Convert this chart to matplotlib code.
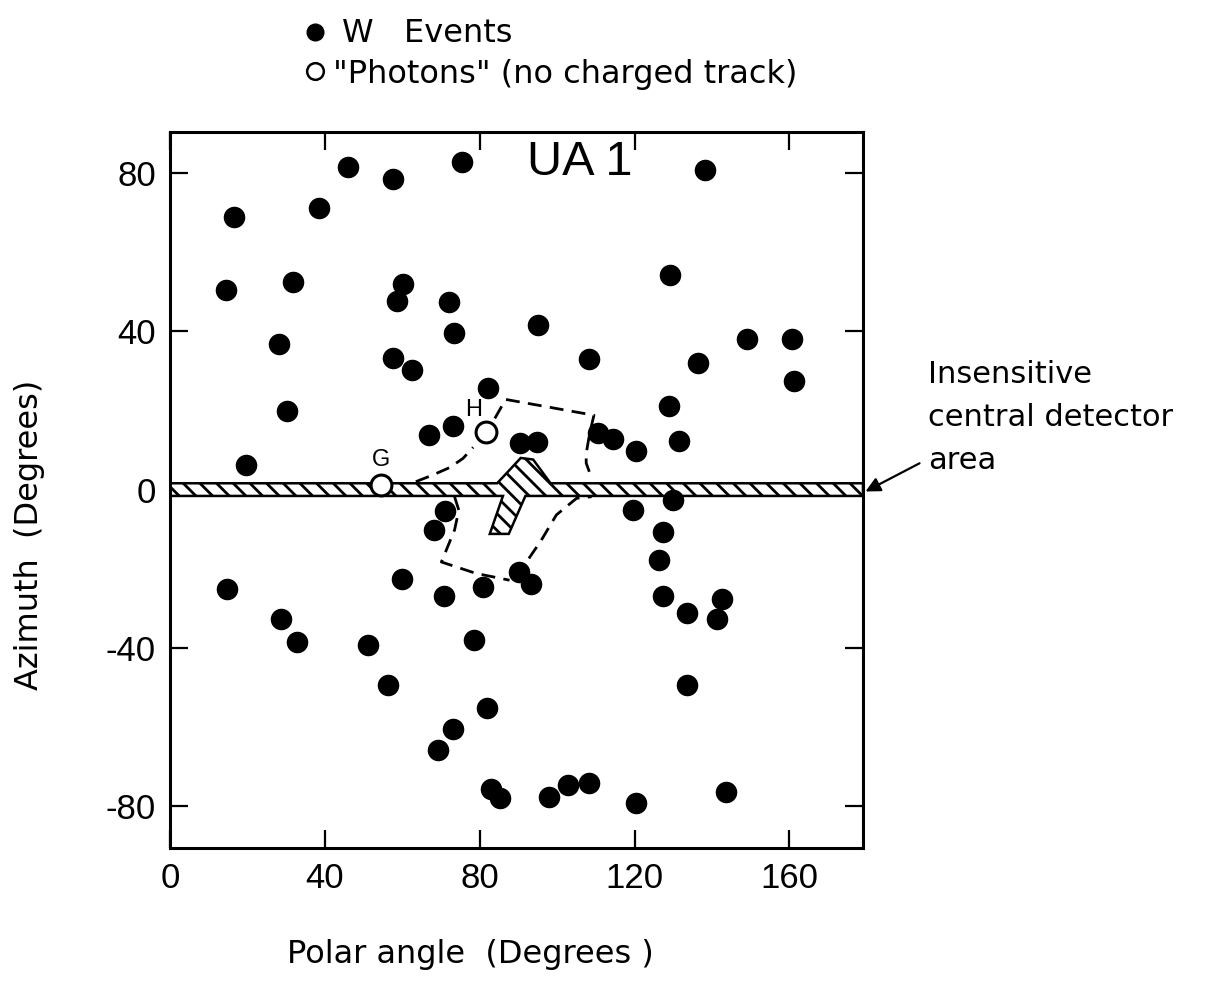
import matplotlib
matplotlib.use("Agg")
from matplotlib import pyplot as plt
from matplotlib import font_manager
from matplotlib.lines import Line2D
from matplotlib.patches import Polygon

# W events: polar angle and azimuth of the electron (degrees)
polar = [46.0, 57.6, 75.3, 16.5, 38.5, 14.5, 31.8, 60.2, 58.7, 72.1, 73.3, 28.2, 57.5, 62.5, 82.1, 30.3, 73.1, 66.9, 19.6,
         138.1, 129.2, 95.0, 108.2, 149.0, 160.7, 161.2, 136.4, 128.8, 131.6, 110.5, 114.4, 120.4, 90.5, 94.8,
         129.9, 119.7, 127.3, 126.2, 127.4, 133.6, 142.6, 141.2, 71.1, 68.2, 14.6, 59.9, 70.8, 80.9, 90.1, 93.3,
         28.6, 32.7, 51.1, 78.6, 56.3, 81.9, 73.0, 69.3, 82.8, 85.3, 97.9, 102.8, 108.1, 120.4, 143.5, 133.5]
azimuth = [81.6, 78.4, 82.7, 69.0, 71.1, 50.4, 52.6, 51.9, 47.7, 47.5, 39.7, 36.7, 33.3, 30.2, 25.6, 19.9, 16.1, 13.9, 6.2,
           80.8, 54.3, 41.6, 33.1, 38.1, 38.1, 27.4, 31.9, 21.1, 12.3, 14.2, 12.7, 9.7, 11.8, 12.1,
           -2.7, -5.2, -10.7, -17.8, -26.8, -31.1, -27.6, -32.6, -5.4, -10.2, -25.2, -22.6, -26.8, -24.6, -20.8, -23.9,
           -32.6, -38.5, -39.4, -38.0, -49.5, -55.2, -60.6, -65.8, -75.7, -77.9, -77.7, -74.7, -74.1, -79.3, -76.4, -49.3]

# "photons" (no charged track)
photon_polar = [81.7, 54.6]
photon_azimuth = [14.6, 1.1]
photon_names = ["H", "G"]
photon_label_pos = [(78.5, 20.1), (54.6, 7.5)]

# insensitive strip of the central detector, with the support region in the middle
dead_zone = [(0, 1.6), (84.5, 1.6), (90.6, 8.0), (93.8, 7.6), (98.3, 1.6), (179, 1.6),
             (179, -1.6), (91.8, -1.6), (87.5, -11.2), (82.6, -11.2), (86.0, -1.6), (0, -1.6)]

# dashed contours around the support region
contours = [
    ([63.5, 67.9, 72.3, 75.7, 78.3], [2.0, 3.7, 5.6, 7.9, 10.7]),
    ([83.9, 86.7, 109.5, 108.4, 107.5, 107.5, 108.8], [18.0, 22.8, 18.8, 14.2, 9.1, 6.7, 3.2]),
    ([73.5, 74.6, 73.5, 70.1, 79.1, 87.7], [-1.8, -5.2, -10.2, -18.3, -21.2, -22.9]),
    ([92.7, 95.9, 99.8, 105.0, 108.9], [-17.4, -12.8, -6.4, -2.2, -1.8]),
]

xticks = [0, 40, 80, 120, 160]
yticks = [-80, -40, 0, 40, 80]

W, H = 1218, 984


def fpos(x, y):
    # pixel position -> figure fraction
    return x / W, 1 - y / H


installed = {f.name for f in font_manager.fontManager.ttflist}
if "Liberation Sans Narrow" in installed:
    num_font, num_size, ua_size = "Liberation Sans Narrow", 27, 39
else:
    num_font, num_size, ua_size = "Liberation Sans", 25, 35
text_font = "DejaVu Sans"

plt.rcParams["hatch.linewidth"] = 2.0
plt.rcParams["axes.unicode_minus"] = False

fig = plt.figure(figsize=(W / 100, H / 100), dpi=100)
ax = fig.add_axes([170 / W, 1 - 848 / H, 693 / W, 716 / H])
ax.set_xlim(0, 179)
ax.set_ylim(-90.6, 90.4)

for side in ax.spines.values():
    side.set_linewidth(2.2)

ax.set_xticks(xticks)
ax.set_yticks(yticks)
ax.tick_params(direction="in", length=13, width=1.6, top=True, right=True, pad=10,
               labelsize=num_size)
for lab in ax.get_xticklabels() + ax.get_yticklabels():
    lab.set_fontfamily(num_font)

# dead strip
ax.add_patch(Polygon(dead_zone, closed=True, facecolor="white", edgecolor="black",
                     hatch="\\\\", lw=1.8, zorder=2))

for xs, ys in contours:
    ax.plot(xs, ys, color="black", lw=2.0, ls=(0, (5, 3)), zorder=3)

ax.plot(polar, azimuth, "o", ms=14.5, color="black", zorder=4)
ax.plot(photon_polar, photon_azimuth, "o", ms=15, mfc="white", mec="black", mew=2.2, zorder=5)
for name, (lx, ly) in zip(photon_names, photon_label_pos):
    ax.text(lx, ly, name, ha="center", va="center", fontsize=17, family=num_font)

ax.text(105.8, 82.8, "UA 1", ha="center", va="center", fontsize=ua_size, family=num_font)

# legend above the frame
fig.add_artist(Line2D([fpos(315, 32)[0]], [fpos(315, 32)[1]], marker="o", ms=12,
                      color="black", transform=fig.transFigure))
fig.add_artist(Line2D([fpos(315, 71)[0]], [fpos(315, 71)[1]], marker="o", ms=12,
                      mfc="white", mec="black", mew=1.8, transform=fig.transFigure))
fig.text(*fpos(342, 42), "W   Events", fontsize=23, family=text_font, va="baseline")
fig.text(*fpos(333, 83), '"Photons" (no charged track)', fontsize=23, family=text_font,
         va="baseline")

# axis titles
fig.text(*fpos(30, 535), "Azimuth  (Degrees)", rotation=90, ha="center", va="center",
         fontsize=23, family=text_font)
fig.text(*fpos(470, 955), "Polar angle  (Degrees )", ha="center", va="center",
         fontsize=23, family=text_font)

# note on the insensitive strip
for i, line in enumerate(["Insensitive", "central detector", "area"]):
    fig.text(*fpos(928, 383 + 43 * i), line, fontsize=22, family=text_font, va="baseline")
ax.annotate("", xy=(179, -0.8), xycoords="data",
            xytext=fpos(922, 462), textcoords="figure fraction",
            arrowprops=dict(arrowstyle="-|>", color="black", lw=1.6, mutation_scale=22),
            annotation_clip=False)

fig.savefig("out.png", dpi=100)
